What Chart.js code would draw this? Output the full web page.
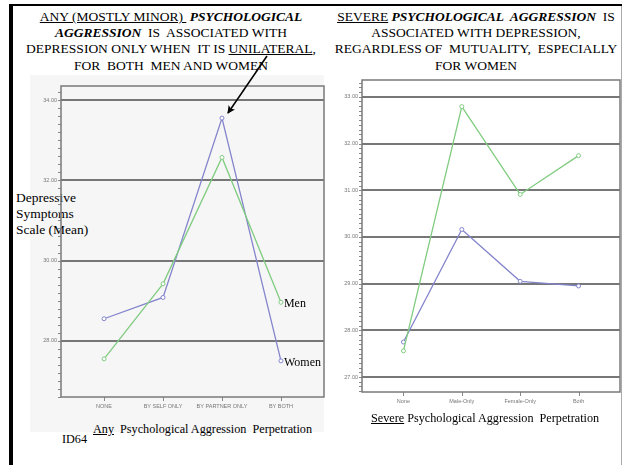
<!DOCTYPE html>
<html>
<head>
<meta charset="utf-8">
<script src="https://cdn.jsdelivr.net/npm/chart.js@4/dist/chart.umd.min.js"></script>
<style>
  body { margin: 0; width: 626px; height: 465px; background: #fff; position: relative; overflow: hidden;
         font-family: "Liberation Serif", "Times New Roman", serif; color: #000; }
  .abs { position: absolute; }
  .title { font-size: 13.5px; line-height: 16.2px; text-align: center; white-space: pre; }
  .txt { font-size: 13.5px; white-space: pre; }
  .axt { font-size: 12.2px; white-space: pre; }
  canvas { position: absolute; }
</style>
</head>
<body>
<div class="abs" style="left:30px;top:75px;width:294px;height:357px;background:#f6f6f6;"></div>
<div class="abs" style="left:10px;top:4px;width:612px;height:2px;background:#000;"></div>
<div class="abs" style="left:9px;top:4px;width:4px;height:461px;background:#000;"></div>
<div class="abs" style="left:621px;top:6px;width:1px;height:459px;background:#aaa;"></div>

<div class="abs title" style="left:0;top:9px;width:342px;"><u>ANY (MOSTLY MINOR) </u> <b><i>PSYCHOLOGICAL</i></b>
<b><i>AGGRESSION</i></b>  IS  ASSOCIATED WITH
DEPRESSION ONLY WHEN  IT IS <u>UNILATERAL</u>,
FOR  BOTH  MEN AND WOMEN</div>

<div class="abs title" style="left:326px;top:9px;width:300px;"><u>SEVERE</u> <b><i>PSYCHOLOGICAL  AGGRESSION</i></b>  IS
ASSOCIATED WITH DEPRESSION,
REGARDLESS OF  MUTUALITY,  ESPECIALLY
FOR WOMEN</div>

<div class="abs txt" style="left:16px;top:190px;line-height:16px;">Depressive
Symptoms
Scale (Mean)</div>

<canvas id="leftChart" width="310" height="340" style="left:20px;top:80px;"></canvas>
<canvas id="rightChart" width="303" height="345" style="left:322px;top:70px;"></canvas>

<div class="abs axt" style="left:93px;top:422px;"><u>Any</u>  Psychological Aggression  Perpetration</div>
<div class="abs axt" style="left:62px;top:432px;">ID64</div>
<div class="abs axt" style="left:371px;top:411px;"><u>Severe</u> Psychological Aggression  Perpetration</div>

<svg class="abs" style="left:0;top:0;" width="626" height="465">
  <defs>
    <marker id="head" markerWidth="8" markerHeight="8" refX="7" refY="4" orient="auto" markerUnits="userSpaceOnUse">
      <path d="M0,0 L8,4 L0,8 L2,4 z" fill="#000"/>
    </marker>
  </defs>
  <line x1="267" y1="56" x2="228" y2="113" stroke="#000" stroke-width="1.6" marker-end="url(#head)"/>
</svg>

<script>
// left chart: any psychological aggression
const anyCategories = ['NONE', 'BY SELF ONLY', 'BY PARTNER ONLY', 'BY BOTH'];
const anyMen = [27.55, 29.42, 32.57, 28.96];
const anyWomen = [28.55, 29.08, 33.55, 27.5];
const anyMajorTicks = [28, 30, 32, 34];

// right chart: severe psychological aggression
const severeCategories = ['None', 'Male-Only', 'Female-Only', 'Both'];
const severeMen = [27.56, 32.79, 30.91, 31.74];
const severeWomen = [27.75, 30.16, 29.05, 28.95];
const severeMajorTicks = [27, 28, 29, 30, 31, 32, 33];

const menColor = 'rgb(128, 204, 128)';
const womenColor = 'rgb(132, 132, 204)';
const gridColor = '#777';

// plot box around the chart area, plus tick marks on both axes
const frame = {
    id: 'frame',
    afterDatasetsDraw(chart) {
        const a = chart.chartArea;
        const c = chart.ctx;
        c.save();
        c.strokeStyle = '#888';
        c.lineWidth = 1;
        c.beginPath();
        chart.scales.y.ticks.forEach(t => {
            const y = Math.round(chart.scales.y.getPixelForValue(t.value)) + 0.5;
            c.moveTo(a.left - 3, y);
            c.lineTo(a.left, y);
        });
        chart.scales.x.ticks.forEach(t => {
            const x = Math.round(chart.scales.x.getPixelForValue(t.value)) + 0.5;
            c.moveTo(x, a.bottom);
            c.lineTo(x, a.bottom + 4);
        });
        c.stroke();
        c.strokeStyle = '#7a7a7a';
        c.lineWidth = 1.5;
        c.strokeRect(a.left, a.top, a.right - a.left, a.bottom - a.top);
        c.restore();
    }
};

// "Men" / "Women" beside the last point
const endLabels = {
    id: 'endLabels',
    afterDatasetsDraw(chart, args, opts) {
        if (!opts.show) return;
        const c = chart.ctx;
        c.save();
        c.font = '12px "Liberation Serif"';
        c.fillStyle = '#000';
        c.textBaseline = 'middle';
        chart.data.datasets.forEach((ds, i) => {
            const pts = chart.getDatasetMeta(i).data;
            const p = pts[pts.length - 1];
            c.fillText(ds.label, p.x + 3, p.y + 2);
        });
        c.restore();
    }
};

function isMajor(v, majors) {
    return majors.some(m => Math.abs(m - v) < 1e-6);
}

function makeChart(id, cats, men, women, majors, yMin, yMax, minorStep, xPad, pad, yWidth, labels) {
    const toPoints = arr => arr.map((v, i) => ({ x: i, y: v }));
    return new Chart(document.getElementById(id).getContext('2d'), {
        type: 'line',
        data: {
            datasets: [{
                label: 'Men',
                data: toPoints(men),
                borderColor: menColor,
                backgroundColor: '#fff',
                borderWidth: 1.3,
                pointRadius: 2,
                pointBorderWidth: 1,
                tension: 0
            }, {
                label: 'Women',
                data: toPoints(women),
                borderColor: womenColor,
                backgroundColor: '#fff',
                borderWidth: 1.3,
                pointRadius: 2,
                pointBorderWidth: 1,
                tension: 0
            }]
        },
        options: {
            responsive: false,
            animation: false,
            layout: { padding: pad },
            plugins: { legend: { display: false }, tooltip: { enabled: false }, endLabels: { show: labels } },
            scales: {
                x: {
                    type: 'linear',
                    min: -xPad,
                    max: cats.length - 1 + xPad,
                    afterBuildTicks: s => { s.ticks = cats.map((c, i) => ({ value: i })); },
                    afterFit: s => { s.height = 23; },
                    border: { display: false },
                    grid: { drawOnChartArea: false, drawTicks: true, tickLength: 4, tickColor: 'rgba(0,0,0,0)' },
                    ticks: {
                        autoSkip: false, maxRotation: 0, padding: 2,
                        color: '#777', font: { family: 'Arial', size: 5.5 },
                        callback: v => cats[v]
                    }
                },
                y: {
                    min: yMin,
                    max: yMax,
                    afterBuildTicks: s => {
                        const t = [];
                        for (let v = Math.ceil(yMin / minorStep) * minorStep; v <= yMax + 1e-9; v += minorStep) {
                            t.push({ value: +v.toFixed(2) });
                        }
                        s.ticks = t;
                    },
                    afterFit: s => { s.width = yWidth; },
                    border: { display: false },
                    grid: {
                        color: c => isMajor(c.tick.value, majors) ? gridColor : 'rgba(0,0,0,0)',
                        lineWidth: c => isMajor(c.tick.value, majors) ? 2 : 0,
                        tickColor: 'rgba(0,0,0,0)',
                        tickLength: 3
                    },
                    ticks: {
                        autoSkip: false, padding: 1,
                        color: '#777', font: { family: 'Arial', size: 5.5 },
                        callback: v => isMajor(v, majors) ? v.toFixed(2) : ''
                    }
                }
            }
        },
        plugins: [frame, endLabels]
    });
}

makeChart('leftChart', anyCategories, anyMen, anyWomen, anyMajorTicks,
    26.6, 34.35, 0.2, 0.73, { top: 6, right: 6, left: 0, bottom: 0 }, 41, true);
makeChart('rightChart', severeCategories, severeMen, severeWomen, severeMajorTicks,
    26.68, 33.36, 0.1, 0.71, { top: 10, right: 3, left: 0, bottom: 0 }, 40, false);
</script>
</body>
</html>
